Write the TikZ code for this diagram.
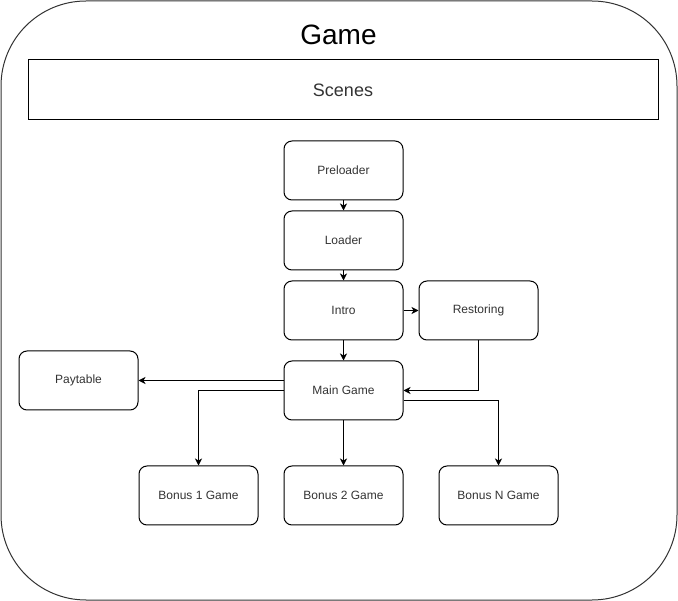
\documentclass[tikz,border=0pt]{standalone}
\usepackage{fontspec}
\setmainfont{Liberation Sans}
\usetikzlibrary{arrows.meta}
\begin{document}
\begin{tikzpicture}[x=1pt,y=-1pt,
  scene/.style={draw, line width=1pt, rounded corners=8pt, minimum width=119pt, minimum height=59pt,
    inner sep=0pt, font=\fontsize{12}{14}\selectfont, text=black!80},
  link/.style={line width=1pt, -{Stealth[length=7pt,width=7pt,inset=2pt]}}]
\useasboundingbox (0,0) rectangle (678,601);
% frame of the game
\draw[line width=1pt, black!80, rounded corners=85pt] (1,1) rectangle (677,600);
\node[font=\fontsize{28}{32}\selectfont] (title) at (338.5,35) {Game};
\node[draw, line width=1pt, minimum width=630pt, minimum height=60pt, inner sep=0pt,
  font=\fontsize{18}{22}\selectfont, text=black!80] (scenes) at (343,90) {Scenes};
% scenes
\node[scene] (pre) at (343.5,170.5) {Preloader};
\node[scene] (load) at (343.5,240.5) {Loader};
\node[scene] (intro) at (343.5,310.5) {Intro};
\node[scene] (rest) at (478.5,310.5) {Restoring};
\node[scene] (main) at (343.5,390.5) {Main Game};
\node[scene] (pay) at (78.5,380.5) {Paytable};
\node[scene] (b1) at (198.5,495.5) {Bonus 1 Game};
\node[scene] (b2) at (343.5,495.5) {Bonus 2 Game};
\node[scene] (bn) at (498.5,495.5) {Bonus N Game};
% exit points on the main game
\coordinate (mainPay) at ([yshift=10pt]main.west);
\coordinate (mainBn) at ([yshift=-10pt]main.east);
% transitions
\draw[link] (pre) -- (load);
\draw[link] (load) -- (intro);
\draw[link] (intro) -- (rest);
\draw[link] (intro) -- (main);
\draw[link] (rest.south) |- (main.east);
\draw[link] (mainPay) -- (mainPay -| pay.east);
\draw[link] (main.west) -| (b1.north);
\draw[link] (main) -- (b2);
\draw[link] (mainBn) -| (bn.north);
\end{tikzpicture}
\end{document}
